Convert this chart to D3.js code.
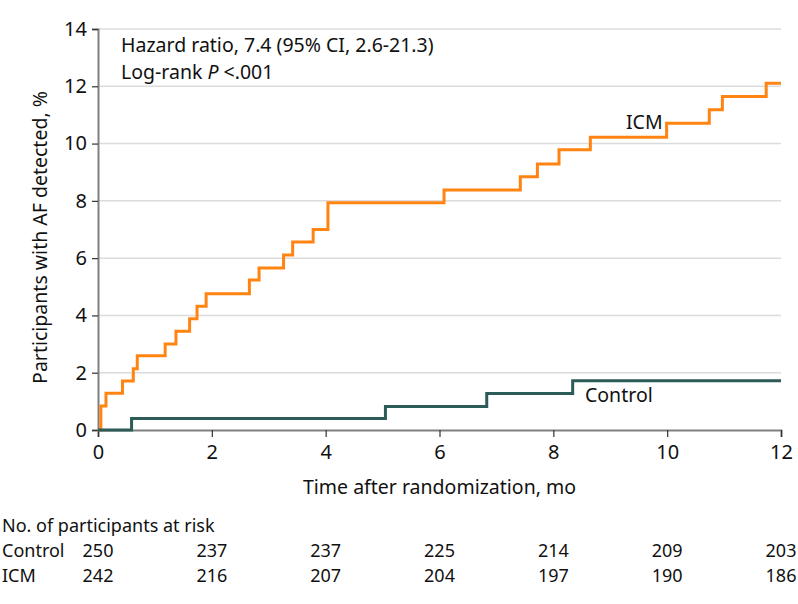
<!DOCTYPE html>
<html>
<head>
<meta charset="utf-8">
<script src="https://cdn.jsdelivr.net/npm/d3@7"></script>
<style>
  html, body { margin: 0; padding: 0; background: #fff; }
  svg { display: block; font-family: "Noto Sans", "Open Sans", sans-serif; }
</style>
</head>
<body>
<svg id="chart" width="798" height="604"></svg>
<script>
// ---- data ----
const xTicks = [0, 2, 4, 6, 8, 10, 12];
const yTicks = [0, 2, 4, 6, 8, 10, 12, 14];

const icmTimes  = [0, 0.05, 0.14, 0.43, 0.62, 0.69, 1.18, 1.37, 1.61, 1.74, 1.90, 2.66, 2.83, 3.26, 3.42, 3.78, 4.04, 6.08, 7.42, 7.72, 8.10, 8.65, 9.99, 10.74, 10.97, 11.74, 12];
const icmValues = [0, 0.84, 1.28, 1.71, 2.14, 2.59, 3.00, 3.45, 3.88, 4.32, 4.76, 5.24, 5.66, 6.11, 6.56, 7.00, 7.93, 8.38, 8.84, 9.29, 9.78, 10.22, 10.71, 11.18, 11.64, 12.11, 12.11];

const controlTimes  = [0, 0.59, 5.05, 6.83, 8.34, 12];
const controlValues = [0, 0.40, 0.82, 1.27, 1.72, 1.72];

const riskGroups = ["Control", "ICM"];
const riskControl = [250, 237, 237, 225, 214, 209, 203];
const riskICM     = [242, 216, 207, 204, 197, 190, 186];

// ---- layout ----
const svg = d3.select("#chart");
const mLeft = 98, mRight = 781, mTop = 29, mBottom = 430;

const x = d3.scaleLinear().domain([0, 12]).range([mLeft, mRight]);
const y = d3.scaleLinear().domain([0, 14]).range([mBottom, mTop]);

const colICM = "#FF8412";
const colCtl = "#2D5B57";
const fs = "19.5px";
const tableFs = "18px";
const tickFs = "20px";

// gridlines
svg.append("g").selectAll("line").data(yTicks.filter(d => d > 0)).join("line")
  .attr("x1", mLeft).attr("x2", mRight)
  .attr("y1", d => y(d)).attr("y2", d => y(d))
  .attr("stroke", "#dcdcdc").attr("stroke-width", 1.5);

// axes
const yAxis = svg.append("g").attr("transform", `translate(${mLeft},0)`)
  .call(d3.axisLeft(y).tickValues(yTicks).tickSize(6).tickPadding(5).tickFormat(d3.format("d")));
const xAxis = svg.append("g").attr("transform", `translate(0,${mBottom})`)
  .call(d3.axisBottom(x).tickValues(xTicks).tickSize(7).tickPadding(8).tickFormat(d3.format("d")));
[yAxis, xAxis].forEach(g => {
  g.select(".domain").attr("stroke", "#808080").attr("stroke-width", 2);
  g.selectAll(".tick line").attr("stroke", "#333").attr("stroke-width", 1.2);
  g.selectAll(".tick text").attr("fill", "#111").style("font-size", tickFs)
    .style("font-family", "'Noto Sans', sans-serif");
});

// step lines
const line = d3.line().x(d => x(d[0])).y(d => y(d[1])).curve(d3.curveStepAfter);
svg.append("path").datum(icmTimes.map((t, i) => [t, icmValues[i]]))
  .attr("d", line).attr("fill", "none").attr("stroke", colICM).attr("stroke-width", 3);
svg.append("path").datum(controlTimes.map((t, i) => [t, controlValues[i]]))
  .attr("d", line).attr("fill", "none").attr("stroke", colCtl).attr("stroke-width", 3);

// series labels
svg.append("text").attr("x", 626).attr("y", 129).text("ICM")
  .style("font-size", fs).attr("fill", "#111");
svg.append("text").attr("x", 585).attr("y", 402).text("Control")
  .style("font-size", fs).attr("fill", "#111");

// annotation
svg.append("text").attr("x", 121).attr("y", 52).text("Hazard ratio, 7.4 (95% CI, 2.6-21.3)")
  .style("font-size", fs).attr("fill", "#111");
const lr = svg.append("text").attr("x", 121).attr("y", 79)
  .style("font-size", fs).attr("fill", "#111");
lr.append("tspan").text("Log-rank ");
lr.append("tspan").text("P").style("font-style", "italic");
lr.append("tspan").text(" <.001");

// axis titles
svg.append("text").attr("x", (mLeft + mRight) / 2).attr("y", 494).attr("text-anchor", "middle")
  .text("Time after randomization, mo").style("font-size", fs).attr("fill", "#111");
svg.append("text").attr("transform", `translate(47,${(mTop + mBottom) / 2 + 8}) rotate(-90)`)
  .attr("text-anchor", "middle").text("Participants with AF detected, %")
  .style("font-size", fs).attr("fill", "#111");

// risk table
svg.append("text").attr("x", 2).attr("y", 532).text("No. of participants at risk")
  .style("font-size", tableFs).attr("fill", "#111");
const rows = [riskControl, riskICM];
rows.forEach((vals, r) => {
  const yy = 557 + r * 25;
  svg.append("text").attr("x", 2).attr("y", yy).text(riskGroups[r])
    .style("font-size", tableFs).attr("fill", "#111");
  svg.append("g").selectAll("text").data(vals).join("text")
    .attr("x", (d, i) => x(xTicks[i])).attr("y", yy).attr("text-anchor", "middle")
    .text(d => d).style("font-size", tableFs).attr("fill", "#111");
});
</script>
</body>
</html>
